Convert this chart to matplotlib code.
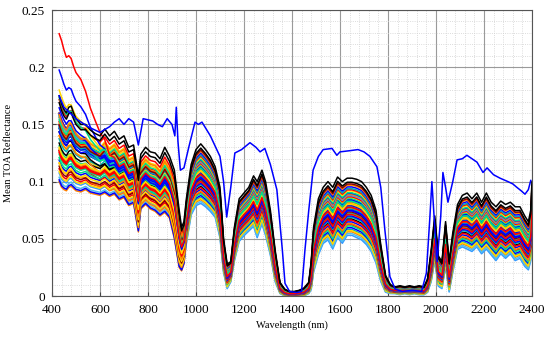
import numpy as np
import matplotlib
matplotlib.use("Agg")
import matplotlib.pyplot as plt
from matplotlib.ticker import MultipleLocator, FuncFormatter

# wavelength nodes (nm)
wl = [430, 440, 450, 460, 470, 480, 490, 500, 520, 540, 560, 580, 600, 620, 640, 660, 680,
      700, 720, 740, 760, 770, 790, 810, 830, 850, 870, 890, 910, 930, 940, 950, 960, 980,
      1000, 1020, 1040, 1060, 1080, 1100, 1115, 1130, 1145, 1160, 1180, 1200, 1220, 1240,
      1255, 1275, 1290, 1310, 1330, 1350, 1370, 1390, 1410, 1430, 1450, 1470, 1480, 1490,
      1510, 1530, 1550, 1570, 1590, 1610, 1630, 1650, 1670, 1690, 1710, 1730, 1750, 1770,
      1790, 1810, 1830, 1850, 1870, 1890, 1910, 1930, 1950, 1965, 1980, 1995, 2010, 2025,
      2040, 2055, 2070, 2090, 2110, 2130, 2150, 2170, 2190, 2210, 2230, 2250, 2270, 2290,
      2310, 2330, 2350, 2370, 2385, 2395, 2400]

# lower edge of the bundle of spectra
low = [0.100, 0.095, 0.093, 0.092, 0.095, 0.096, 0.094, 0.092, 0.091, 0.093, 0.090, 0.089,
       0.088, 0.090, 0.087, 0.089, 0.084, 0.086, 0.079, 0.081, 0.056, 0.076, 0.080, 0.076,
       0.074, 0.070, 0.073, 0.068, 0.050, 0.025, 0.022, 0.028, 0.045, 0.070, 0.078, 0.080,
       0.077, 0.073, 0.068, 0.050, 0.020, 0.006, 0.012, 0.030, 0.047, 0.052, 0.056, 0.060,
       0.050, 0.062, 0.052, 0.035, 0.012, 0.002, 0.000, 0.000, 0.000, 0.000, 0.000, 0.002,
       0.005, 0.020, 0.035, 0.045, 0.048, 0.040, 0.050, 0.045, 0.052, 0.052, 0.050, 0.048,
       0.044, 0.038, 0.028, 0.012, 0.003, 0.002, 0.002, 0.001, 0.002, 0.001, 0.002, 0.001,
       0.001, 0.003, 0.012, 0.030, 0.008, 0.006, 0.025, 0.003, 0.020, 0.040, 0.042, 0.040,
       0.038, 0.042, 0.036, 0.040, 0.035, 0.030, 0.036, 0.032, 0.036, 0.030, 0.032, 0.025,
       0.022, 0.030, 0.050]

# upper edge of the bundle of spectra
high = [0.175, 0.168, 0.163, 0.160, 0.165, 0.166, 0.160, 0.155, 0.150, 0.150, 0.145, 0.142,
        0.140, 0.146, 0.140, 0.144, 0.137, 0.140, 0.130, 0.132, 0.105, 0.124, 0.130, 0.126,
        0.125, 0.120, 0.130, 0.122, 0.110, 0.075, 0.060, 0.065, 0.085, 0.115, 0.128, 0.133,
        0.128, 0.122, 0.113, 0.095, 0.050, 0.028, 0.030, 0.060, 0.085, 0.090, 0.095, 0.105,
        0.100, 0.110, 0.100, 0.075, 0.040, 0.012, 0.006, 0.004, 0.004, 0.005, 0.007, 0.012,
        0.030, 0.060, 0.085, 0.095, 0.100, 0.095, 0.104, 0.100, 0.103, 0.103, 0.102, 0.100,
        0.095, 0.088, 0.075, 0.045, 0.018, 0.010, 0.008, 0.009, 0.008, 0.009, 0.008, 0.009,
        0.008, 0.015, 0.040, 0.070, 0.035, 0.030, 0.065, 0.030, 0.055, 0.080, 0.088, 0.090,
        0.085, 0.090, 0.082, 0.090, 0.082, 0.078, 0.083, 0.080, 0.082, 0.078, 0.078, 0.070,
        0.065, 0.075, 0.100]

# extra blue-end brightening (relative shape), zero beyond 680 nm
haze = [1.0, 1.0, 0.95, 0.9, 0.87, 0.83, 0.8, 0.78, 0.75, 0.62, 0.5, 0.4, 0.3, 0.18, 0.08, 0.02]

# brightest outlier spectrum (blue)
out_wl = [430, 450, 500, 550, 600, 640, 660, 680, 700, 720, 740, 760, 780, 800, 820, 840,
          860, 880, 900, 912, 918, 925, 935, 950, 970, 996, 1010, 1025, 1060, 1100, 1115,
          1128, 1145, 1162, 1190, 1225, 1250, 1267, 1287, 1310, 1337, 1360, 1371, 1390,
          1420, 1440, 1454, 1470, 1488, 1510, 1530, 1567, 1587, 1600, 1640, 1675, 1700,
          1725, 1754, 1770, 1787, 1808, 1830, 1860, 1900, 1940, 1960, 1975, 1983, 1995,
          2005, 2020, 2029, 2040, 2050, 2070, 2088, 2110, 2129, 2150, 2171, 2196, 2213,
          2240, 2267, 2300, 2320, 2337, 2355, 2371, 2385, 2395]
out_val = [0.175, 0.165, 0.155, 0.148, 0.143, 0.148, 0.152, 0.155, 0.150, 0.155, 0.152, 0.132,
           0.155, 0.154, 0.153, 0.150, 0.148, 0.155, 0.150, 0.140, 0.165, 0.135, 0.110, 0.112,
           0.130, 0.152, 0.150, 0.152, 0.140, 0.122, 0.100, 0.069, 0.095, 0.125, 0.128, 0.134,
           0.130, 0.126, 0.129, 0.115, 0.093, 0.040, 0.011, 0.004, 0.003, 0.004, 0.040, 0.075,
           0.110, 0.122, 0.128, 0.129, 0.123, 0.126, 0.127, 0.128, 0.126, 0.122, 0.113, 0.095,
           0.058, 0.017, 0.006, 0.004, 0.005, 0.004, 0.020, 0.070, 0.100, 0.060, 0.030, 0.070,
           0.108, 0.095, 0.082, 0.100, 0.119, 0.120, 0.123, 0.120, 0.117, 0.108, 0.112, 0.106,
           0.103, 0.100, 0.098, 0.095, 0.092, 0.089, 0.093, 0.101]

# position of each spectrum inside the bundle (0 = lower edge, 1 = upper edge)
# frac: 960 nm and beyond, frac_vis: below 960 nm
frac = [0.02, 0.08, 0.05, 0.12, 0.15, 0.10, 0.20, 0.18, 0.25, 0.22, 0.30, 0.28, 0.33, 0.36,
        0.35, 0.40, 0.38, 0.42, 0.45, 0.44, 0.48, 0.47, 0.50, 0.52, 0.55, 0.53, 0.57, 0.58,
        0.60, 0.62, 0.63, 0.65, 0.67, 0.68, 0.70, 0.72, 0.74, 0.75, 0.78, 0.80, 0.82, 0.85,
        0.88, 0.90, 0.55, 0.45, 0.60, 0.50, 0.93, 1.00]
frac_vis = [0.10, 0.00, 0.05, 0.30, 0.02, 0.40, 0.15, 0.35, 0.25, 0.08, 0.45, 0.20, 0.50, 0.12,
            0.55, 0.28, 0.60, 0.18, 0.38, 0.65, 0.22, 0.48, 0.70, 0.32, 0.42, 0.58, 0.27, 0.75,
            0.36, 0.52, 0.62, 0.44, 0.80, 0.34, 0.56, 0.68, 0.46, 0.72, 0.40, 0.85, 0.64, 0.53,
            0.78, 0.66, 0.60, 0.50, 0.58, 0.55, 0.92, 1.00]
blue_extra = [0.0, 0.0, 0.0, 0.005, 0.0, 0.010, 0.0, 0.005, 0.0, 0.010, 0.0, 0.012, 0.0, 0.0,
              0.008, 0.0, 0.015, 0.0, 0.0, 0.010, 0.0, 0.020, 0.0, 0.0, 0.012, 0.0, 0.020,
              0.0, 0.0, 0.008, 0.0, 0.025, 0.0, 0.0, 0.015, 0.0, 0.030, 0.0, 0.0, 0.008, 0.0,
              0.020, 0.0, 0.0, 0.035, 0.060, 0.030, 0.088, 0.0, 0.0]
colors = ['#3399ff', '#ff8000', '#4dbeee', '#00b0b0', '#0000ff', '#ffd700', '#ff0000',
          '#00e08a', '#0000ff', '#ff8000', '#000000', '#ff0000', '#00b0b0', '#ffd700',
          '#0000ff', '#00e08a', '#ff0000', '#8b0000', '#ff8000', '#0000ff', '#ffd700',
          '#00b0b0', '#ff0000', '#00e08a', '#000000', '#0000ff', '#ff8000', '#ffd700',
          '#ff0000', '#00b0b0', '#0000ff', '#00e08a', '#ffd700', '#ff0000', '#3399ff',
          '#ff8000', '#0000ff', '#00e08a', '#ffd700', '#ff0000', '#00b0b0', '#0000ff',
          '#ff8000', '#8b0000', '#ffd700', '#0000ff', '#00e08a', '#ff0000', '#000000',
          '#000000']

wl_a = np.array(wl, float)
low_a = np.array(low)
high_a = np.array(high)
haze_a = np.zeros(len(wl))
haze_a[:len(haze)] = haze
vis = wl_a < 960

plt.rcParams['font.family'] = ['Liberation Serif', 'DejaVu Serif']
fig = plt.figure(figsize=(5.5, 3.39), dpi=100)
ax = fig.add_axes([0.0945, 0.1268, 0.8727, 0.8437])

for f, fv, b, c in zip(frac, frac_vis, blue_extra, colors):
    pos = np.where(vis, fv, f)
    spec = low_a + pos * (high_a - low_a) + b * haze_a
    ax.plot(wl_a, spec, color=c, lw=1.1)

ax.plot(out_wl, out_val, color='#0000ff', lw=1.1)

ax.set_xlim(400, 2400)
ax.set_ylim(0, 0.25)
ax.xaxis.set_major_locator(MultipleLocator(200))
ax.xaxis.set_minor_locator(MultipleLocator(40))
ax.yaxis.set_major_locator(MultipleLocator(0.05))
ax.yaxis.set_minor_locator(MultipleLocator(0.01))
ax.yaxis.set_major_formatter(FuncFormatter(lambda v, p: '%g' % round(v, 3)))
ax.grid(which='major', color='#9a9a9a', lw=0.8, ls='-')
ax.grid(which='minor', color='#d0d0d0', lw=0.6, ls=':')
ax.set_axisbelow(True)
ax.tick_params(which='both', direction='in', labelsize=9.5, length=3, color='#444444')
ax.tick_params(axis='x', pad=6)
ax.tick_params(axis='y', pad=5)
ax.tick_params(which='minor', length=0)
for s in ax.spines.values():
    s.set_color('#555555')
    s.set_linewidth(0.8)

ax.set_xlabel('Wavelength (nm)', fontsize=7.5, labelpad=3)
ax.set_ylabel('Mean TOA Reflectance', fontsize=7.5, labelpad=6)

fig.savefig('out.png', dpi=100)
